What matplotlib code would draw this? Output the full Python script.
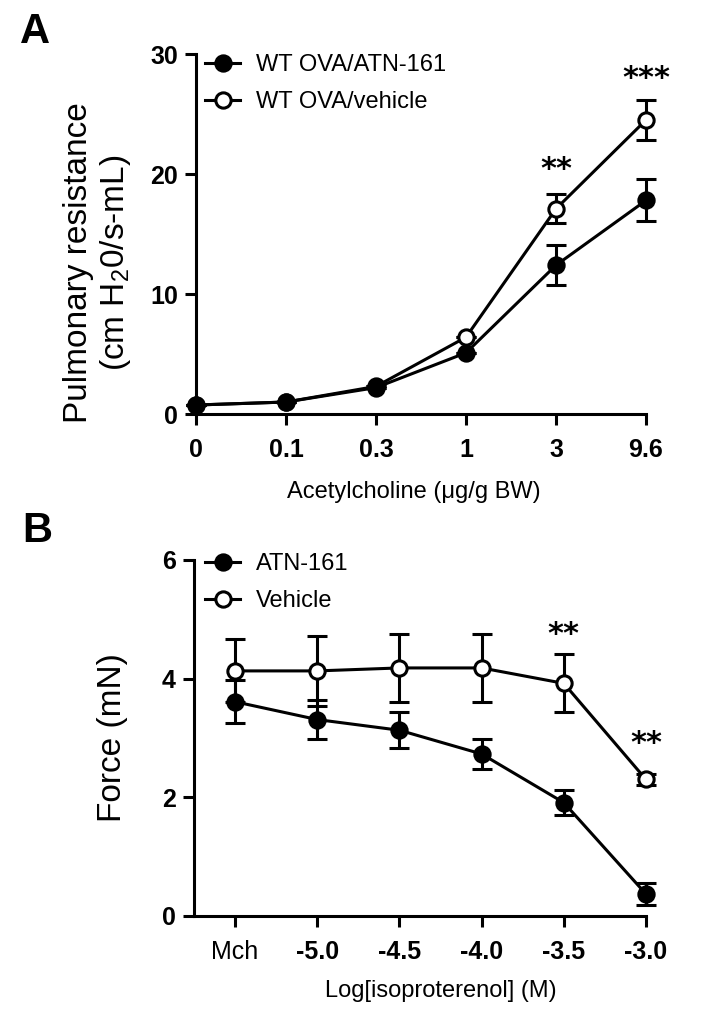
import numpy as np
import matplotlib
matplotlib.use("Agg")
import matplotlib.pyplot as plt

plt.rcParams['font.family'] = ['Liberation Sans', 'DejaVu Sans']
plt.rcParams['mathtext.default'] = 'regular'

# panel A data
doses_a = ["0", "0.1", "0.3", "1", "3", "9.6"]
atn_a = [0.75, 1.0, 2.2, 5.1, 12.4, 17.8]
atn_a_err = [0, 0, 0, 0, 1.65, 1.75]
veh_a = [0.75, 1.0, 2.3, 6.4, 17.1, 24.5]
veh_a_err = [0, 0, 0, 0, 1.2, 1.7]
stars_a = ["", "", "", "", "**", "***"]
stars_a_y = [0, 0, 0, 0, 20.4, 28.0]

# panel B data
doses_b = ["Mch", "-5.0", "-4.5", "-4.0", "-3.5", "-3.0"]
atn_b = [3.61, 3.31, 3.13, 2.73, 1.91, 0.37]
atn_b_err = [0.36, 0.33, 0.3, 0.25, 0.21, 0.18]
veh_b = [4.13, 4.13, 4.18, 4.18, 3.92, 2.3]
veh_b_err = [0.53, 0.59, 0.58, 0.58, 0.49, 0.1]
stars_b = ["", "", "", "", "**", "**"]
stars_b_y = [0, 0, 0, 0, 4.75, 2.9]

lw = 2.2
ms = 11

fig = plt.figure(figsize=(7.07, 10.19), dpi=100)


def style_axes(ax, xs, labels, ylim, yticks):
    for s in ['top', 'right']:
        ax.spines[s].set_visible(False)
    for s in ['left', 'bottom']:
        ax.spines[s].set_linewidth(lw)
    ax.set_ylim(*ylim)
    ax.set_yticks(yticks)
    ax.set_xticks(xs)
    ax.set_xticklabels(labels)
    ax.tick_params(direction='out', length=8, width=lw, pad=5)
    ax.tick_params(axis='x', pad=9)
    for lab in ax.get_xticklabels() + ax.get_yticklabels():
        lab.set_fontweight('bold')
        lab.set_fontsize(18)


def draw_series(ax, xs, y, err, filled, label):
    face = 'black' if filled else 'white'
    ax.errorbar(xs, y, yerr=err, fmt='none', ecolor='black', elinewidth=lw,
                capsize=7, capthick=lw, clip_on=False)
    line, = ax.plot(xs, y, color='black', lw=lw, marker='o', ms=ms,
                    mfc=face, mec='black', mew=lw, clip_on=False, label=label)
    return line


leg_kw = dict(loc='upper left', frameon=False, fontsize=17, handlelength=1.5,
              handletextpad=0.65, labelspacing=0.63, borderpad=0, borderaxespad=0)

# ---- panel A
ax1 = fig.add_axes([0.2772, 0.5937, 0.6365, 0.3533])
xa = np.arange(len(doses_a))
h_veh = draw_series(ax1, xa, veh_a, veh_a_err, False, "WT OVA/vehicle")
h_atn = draw_series(ax1, xa, atn_a, atn_a_err, True, "WT OVA/ATN-161")
ax1.set_xlim(0, 5)
style_axes(ax1, xa, doses_a, (0, 30), [0, 10, 20, 30])
for x, s, y in zip(xa, stars_a, stars_a_y):
    if s:
        ax1.text(x, y, s, ha='center', va='center', fontsize=22, fontweight='bold',
                 family='DejaVu Sans')
ax1.set_ylabel("Pulmonary resistance\n(cm H$_2$0/s-mL)", fontsize=24, linespacing=1.15)
ax1.yaxis.set_label_coords(-0.14, 0.42)
ax1.set_xlabel("Acetylcholine (\u03bcg/g BW)", fontsize=17)
ax1.xaxis.set_label_coords(0.484, -0.185)
ax1.legend(handles=[h_atn, h_veh], bbox_to_anchor=(0.02, 0.999), **leg_kw)

# ---- panel B
ax2 = fig.add_axes([0.2744, 0.1011, 0.6393, 0.3494])
xb = np.arange(len(doses_b))
h_atn_b = draw_series(ax2, xb, atn_b, atn_b_err, True, "ATN-161")
h_veh_b = draw_series(ax2, xb, veh_b, veh_b_err, False, "Vehicle")
ax2.set_xlim(-0.5, 5)
style_axes(ax2, xb, doses_b, (0, 6), [0, 2, 4, 6])
ax2.get_xticklabels()[0].set_fontweight('normal')
for x, s, y in zip(xb, stars_b, stars_b_y):
    if s:
        ax2.text(x, y, s, ha='center', va='center', fontsize=22, fontweight='bold',
                 family='DejaVu Sans')
ax2.set_ylabel("Force (mN)", fontsize=24)
ax2.yaxis.set_label_coords(-0.145, 0.5)
ax2.set_xlabel("Log[isoproterenol] (M)", fontsize=17)
ax2.xaxis.set_label_coords(0.546, -0.18)
ax2.legend(handles=[h_atn_b, h_veh_b], bbox_to_anchor=(0.024, 1.019), **leg_kw)

fig.text(0.028, 0.988, "A", fontsize=30, fontweight='bold', va='top', ha='left')
fig.text(0.031, 0.499, "B", fontsize=30, fontweight='bold', va='top', ha='left')

fig.savefig("out.png", dpi=100)
